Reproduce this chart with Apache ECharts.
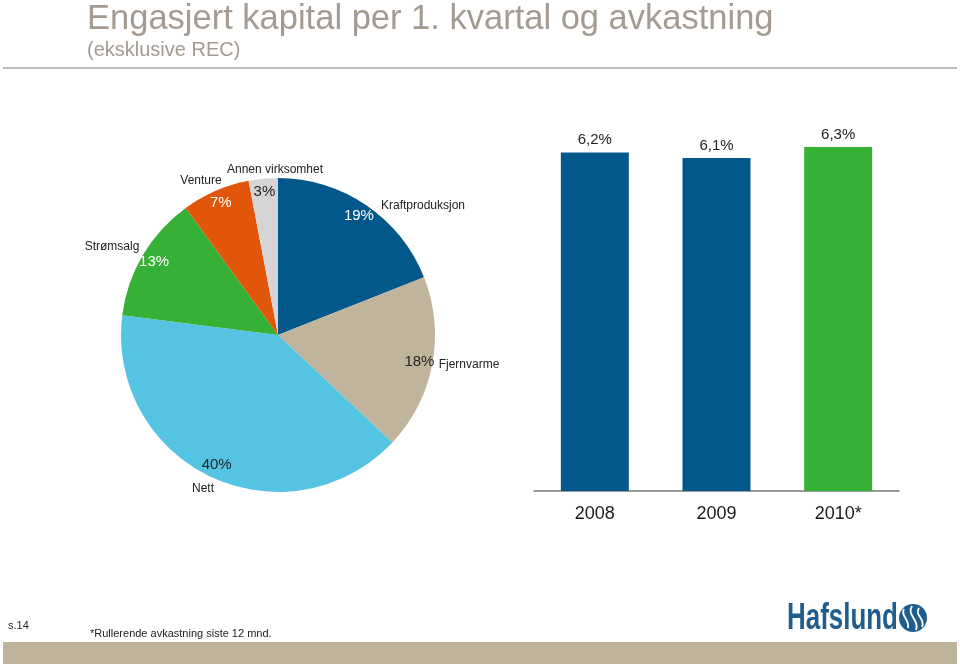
<!DOCTYPE html>
<html>
<head>
<meta charset="utf-8">
<script src="https://cdn.jsdelivr.net/npm/echarts@6/dist/echarts.min.js"></script>
<style>
html,body{margin:0;padding:0;background:#fff;}
#chart{width:960px;height:666px;}
</style>
</head>
<body>
<div id="chart"></div>
<script>
// ---- data ----
const segments = ['Kraftproduksjon', 'Fjernvarme', 'Nett', 'Strømsalg', 'Venture', 'Annen virksomhet'];
const shares = [19, 18, 40, 13, 7, 3];
const years = ['2008', '2009', '2010*'];
const returns = [6.2, 6.1, 6.3];

// ---- styles ----
const sliceColors = ['#03588b', '#c0b49c', '#55c4e3', '#36b035', '#e2560b', '#d5d5d5'];
const pctColors = ['#ffffff', '#222222', '#222222', '#ffffff', '#ffffff', '#222222'];
const barColors = ['#03588b', '#03588b', '#36b035'];
// name label centres (px)
const nameLabelPos = [[423, 206], [469, 365], [203, 489], [112, 247], [201, 181], [275, 170]];
const FONT = '"Liberation Sans", Arial, sans-serif';
const pieCenter = [278, 335];

const chart = echarts.init(document.getElementById('chart'), null, {renderer: 'canvas'});

const option = {
  animation: false,
  backgroundColor: '#ffffff',
  title: {
    text: 'Engasjert kapital per 1. kvartal og avkastning',
    subtext: '(eksklusive REC)',
    left: 87,
    top: 2,
    padding: 0,
    itemGap: 3,
    textStyle: {fontFamily: FONT, fontSize: 34.5, fontWeight: 'normal', color: '#a39b91'},
    subtextStyle: {fontFamily: FONT, fontSize: 20, color: '#a39b91'}
  },
  grid: {left: 534, width: 365, top: 147, bottom: 175},
  xAxis: {
    type: 'category',
    data: years,
    axisLine: {lineStyle: {color: '#7a7a7a', width: 1.5}},
    axisTick: {show: false},
    axisLabel: {fontFamily: FONT, fontSize: 18, color: '#1a1a1a', margin: 14}
  },
  yAxis: {type: 'value', min: 0, max: 6.3, show: false, splitLine: {show: false}},
  series: [
    {
      type: 'pie',
      center: pieCenter,
      radius: 157,
      startAngle: 90,
      clockwise: true,
      silent: true,
      label: {show: false},
      labelLine: {show: false},
      data: segments.map((s, i) => ({name: s, value: shares[i], itemStyle: {color: sliceColors[i]}}))
    },
    {
      // percent labels (placed at ~0.9 of radius)
      type: 'pie',
      center: pieCenter,
      radius: [0, 282],
      startAngle: 90,
      clockwise: true,
      silent: true,
      avoidLabelOverlap: false,
      itemStyle: {color: 'rgba(0,0,0,0)'},
      labelLine: {show: false},
      data: segments.map((s, i) => ({
        name: s, value: shares[i],
        label: {show: true, position: 'inside', formatter: '{c}%', fontFamily: FONT, fontSize: 15, color: pctColors[i]}
      }))
    },
    {
      // category name labels
      type: 'pie',
      center: pieCenter,
      radius: 157,
      startAngle: 90,
      clockwise: true,
      silent: true,
      avoidLabelOverlap: false,
      itemStyle: {color: 'rgba(0,0,0,0)'},
      labelLine: {show: false},
      label: {show: true, position: 'outside', formatter: '{b}', fontFamily: FONT, fontSize: 12, color: '#222222'},
      labelLayout: function (p) {
        const pos = nameLabelPos[p.dataIndex];
        return {x: pos[0], y: pos[1], align: 'center', verticalAlign: 'middle'};
      },
      data: segments.map((s, i) => ({name: s, value: shares[i]}))
    },
    {
      type: 'bar',
      data: returns.map((v, i) => ({value: v, itemStyle: {color: barColors[i]}})),
      barWidth: 68,
      silent: true,
      label: {
        show: true, position: 'top', distance: 5,
        fontFamily: FONT, fontSize: 15, color: '#222222',
        formatter: p => String(p.value).replace('.', ',') + '%'
      }
    }
  ],
  graphic: [
    {type: 'line', shape: {x1: 3, y1: 68, x2: 957, y2: 68}, style: {stroke: '#a8a8a8', lineWidth: 1.5}, silent: true},
    {type: 'rect', shape: {x: 3, y: 642, width: 954, height: 22}, style: {fill: '#bfb39b'}, silent: true},
    {type: 'text', left: 8, top: 620, style: {text: 's.14', fontFamily: FONT, fontSize: 11, fill: '#222'}, silent: true},
    {type: 'text', left: 90, top: 628, style: {text: '*Rullerende avkastning siste 12 mnd.', fontFamily: FONT, fontSize: 11, fill: '#222'}, silent: true},
    {type: 'text', x: 787, y: 619, scaleX: 0.72, style: {text: 'Hafslund', fontFamily: FONT, fontSize: 36, fontWeight: 'bold', fill: '#1f5d8e', verticalAlign: 'middle', align: 'left'}, silent: true},
    {type: 'circle', shape: {cx: 913, cy: 618, r: 14}, style: {fill: '#1f5d8e'}, silent: true},
    {type: 'bezierCurve', shape: {x1: 904, y1: 609, x2: 908, y2: 628, cpx1: 900, cpy1: 616, cpx2: 910, cpy2: 619}, style: {stroke: '#fff', lineWidth: 1.8, fill: null}, silent: true},
    {type: 'bezierCurve', shape: {x1: 912, y1: 606, x2: 916, y2: 630, cpx1: 906, cpy1: 615, cpx2: 920, cpy2: 620}, style: {stroke: '#fff', lineWidth: 1.8, fill: null}, silent: true},
    {type: 'bezierCurve', shape: {x1: 919, y1: 608, x2: 922, y2: 627, cpx1: 914, cpy1: 616, cpx2: 926, cpy2: 618}, style: {stroke: '#fff', lineWidth: 1.8, fill: null}, silent: true}
  ]
};
chart.setOption(option);
</script>
</body>
</html>
